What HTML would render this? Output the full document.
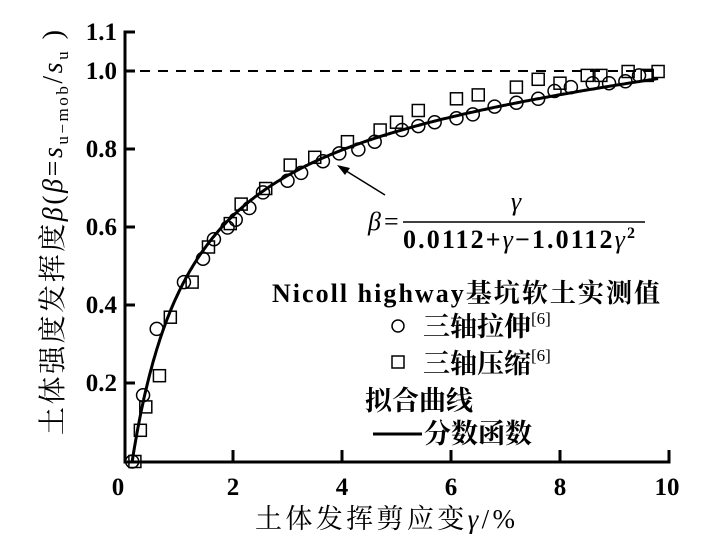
<!DOCTYPE html>
<html><head><meta charset="utf-8"><style>
html,body{margin:0;padding:0;background:#fff;width:710px;height:541px;overflow:hidden}
text{font-family:"Liberation Serif","Noto Serif CJK SC",serif;fill:#000}
</style></head><body>
<svg width="710" height="541" viewBox="0 0 710 541" xmlns="http://www.w3.org/2000/svg">
<g stroke="#000" stroke-width="3" fill="none">
<polyline points="135,32 125,32 125,462 669,462 669,450"/>
<line x1="125" y1="71" x2="135" y2="71"/><line x1="125" y1="149" x2="135" y2="149"/>
<line x1="125" y1="227" x2="135" y2="227"/><line x1="125" y1="305" x2="135" y2="305"/>
<line x1="125" y1="383" x2="135" y2="383"/>
<line x1="233" y1="462" x2="233" y2="450"/><line x1="342" y1="462" x2="342" y2="450"/>
<line x1="451" y1="462" x2="451" y2="450"/><line x1="560" y1="462" x2="560" y2="450"/>
</g>
<line x1="140" y1="71" x2="662" y2="71" stroke="#000" stroke-width="2" stroke-dasharray="10,8"/>
<g font-size="25" text-anchor="end" font-weight="bold">
<text x="117" y="40">1.1</text><text x="117" y="79">1.0</text><text x="117" y="157">0.8</text>
<text x="117" y="235">0.6</text><text x="117" y="313">0.4</text><text x="117" y="391">0.2</text>
</g>
<g font-size="25" text-anchor="middle" font-weight="bold">
<text x="118" y="495">0</text><text x="233" y="495">2</text><text x="342" y="495">4</text>
<text x="451" y="495">6</text><text x="560" y="495">8</text><text x="667" y="495">10</text>
</g>
<text x="385" y="528" font-size="27" text-anchor="middle" textLength="260">土体发挥剪应变<tspan font-style="italic">γ</tspan>/%</text>
<text transform="translate(62,435) rotate(-90)" font-size="28" textLength="405">土体强度发挥度<tspan font-style="italic">β</tspan>(<tspan font-style="italic">β</tspan>=<tspan font-style="italic">s</tspan><tspan font-size="17" dy="6">u−mob</tspan><tspan dy="-6">/</tspan><tspan font-style="italic">s</tspan><tspan font-size="17" dy="6">u</tspan><tspan dy="-6"> )</tspan></text>
<path id="curve" fill="none" stroke="#000" stroke-width="3" d=""/>
<g id="pts" fill="none" stroke="#000" stroke-width="1.5"></g>
<line x1="385" y1="195" x2="343" y2="169" stroke="#000" stroke-width="1.5"/>
<polygon points="337,165 350,168 345,175" fill="#000"/>
<text x="368" y="230" font-size="26" font-style="italic">β</text><text x="384" y="230" font-size="26">=</text>
<text x="516" y="210" font-size="26" font-style="italic" text-anchor="middle">γ</text>
<line x1="403" y1="222" x2="645" y2="222" stroke="#000" stroke-width="1.5"/>
<text x="403" y="248" font-size="26" font-weight="bold" textLength="232">0.0112+<tspan font-style="italic" font-weight="normal">γ</tspan>−1.0112<tspan font-style="italic" font-weight="normal">γ</tspan><tspan font-size="16" dy="-10">2</tspan></text>
<text x="272" y="302" font-size="26" font-weight="bold" textLength="388">Nicoll highway基坑软土实测值</text>
<circle cx="398" cy="326" r="6" fill="none" stroke="#000" stroke-width="1.5"/>
<text x="423" y="336" font-size="27" font-weight="bold">三轴拉伸<tspan font-size="17" dy="-12" font-weight="normal">[6]</tspan></text>
<rect x="392" y="356" width="12" height="12" fill="none" stroke="#000" stroke-width="1.5"/>
<text x="423" y="373" font-size="27" font-weight="bold">三轴压缩<tspan font-size="17" dy="-12" font-weight="normal">[6]</tspan></text>
<text x="365" y="410" font-size="27" font-weight="bold">拟合曲线</text>
<line x1="373" y1="434" x2="422" y2="434" stroke="#000" stroke-width="3"/>
<text x="424" y="443" font-size="27" font-weight="bold">分数函数</text>
</svg>
<script>
var X=function(g){return 124+54.5*g},Y=function(b){return 461.5-390*b};
var d="";for(var i=0;i<=300;i++){var g=i*(9.65/300);var f=g/100;var b=f/(0.0112+f-1.0112*f*f);d+=(i?"L":"M")+X(g+0.15).toFixed(1)+","+Y(b).toFixed(1);}
document.getElementById("curve").setAttribute("d",d);
var c=[[0.15,0],[0.35,0.17],[0.6,0.34],[1.1,0.46],[1.45,0.52],[1.65,0.57],[1.9,0.6],[2.05,0.62],[2.3,0.65],[2.55,0.69],[3.0,0.72],[3.25,0.74],[3.65,0.77],[3.95,0.79],[4.3,0.8],[4.6,0.82],[5.1,0.85],[5.4,0.86],[5.7,0.87],[6.1,0.88],[6.4,0.89],[6.8,0.91],[7.2,0.92],[7.6,0.93],[7.9,0.95],[8.2,0.96],[8.6,0.97],[8.9,0.97],[9.2,0.975],[9.45,0.99]];
var s=[[0.2,0],[0.3,0.08],[0.4,0.14],[0.65,0.22],[0.85,0.37],[1.25,0.46],[1.55,0.55],[1.95,0.61],[2.15,0.66],[2.6,0.7],[3.05,0.76],[3.5,0.78],[4.1,0.82],[4.7,0.85],[5.0,0.87],[5.4,0.9],[6.1,0.93],[6.5,0.94],[7.2,0.96],[7.6,0.98],[8.0,0.97],[8.5,0.99],[8.75,0.99],[9.25,1.0],[9.6,0.99],[9.8,1.0]];
var h="";c.forEach(function(p){h+='<circle cx="'+X(p[0])+'" cy="'+Y(p[1])+'" r="6.5"/>';});
s.forEach(function(p){h+='<rect x="'+(X(p[0])-6)+'" y="'+(Y(p[1])-6)+'" width="12" height="12"/>';});
document.getElementById("pts").innerHTML=h;
</script>
</body></html>
